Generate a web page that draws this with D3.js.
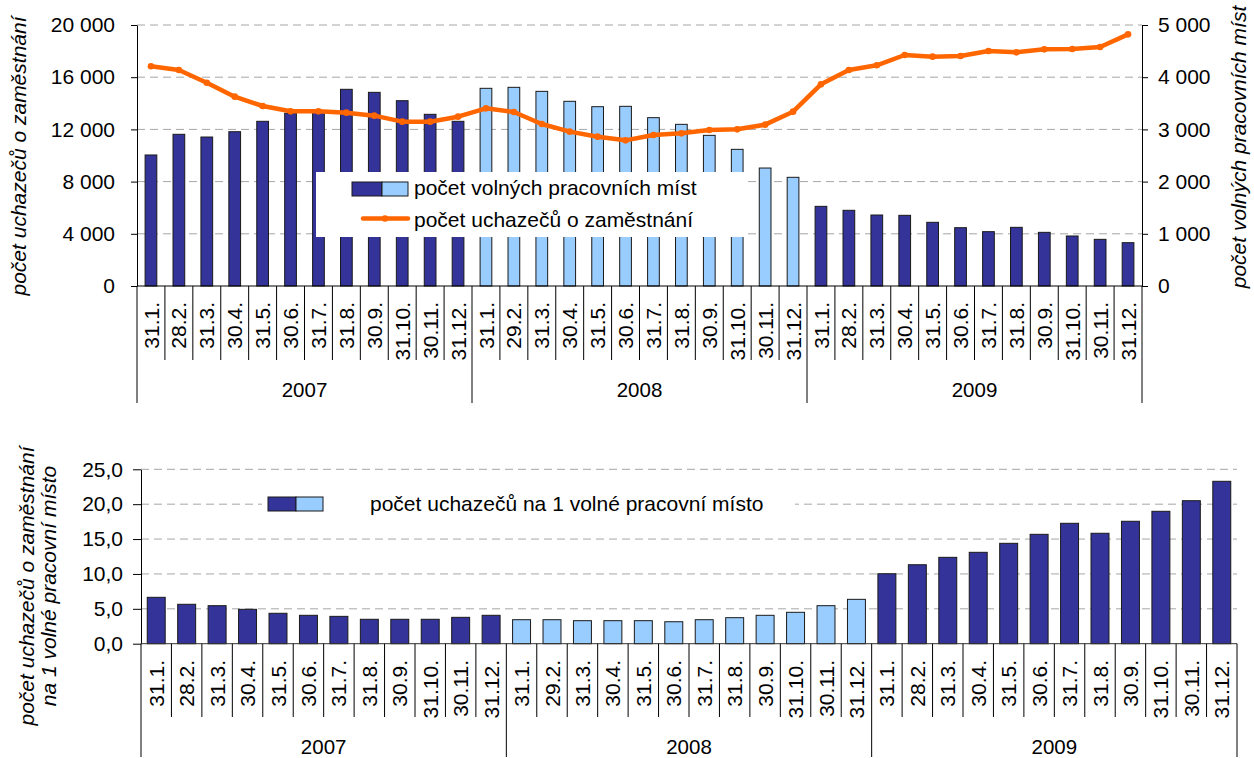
<!DOCTYPE html>
<html><head><meta charset="utf-8">
<script src="https://cdn.jsdelivr.net/npm/d3@7"></script>
<style>
body{margin:0;background:#fff}
svg{display:block}
text{font-family:"Liberation Sans",Arial,sans-serif;fill:#000}
</style>
</head><body>
<svg id="c" width="1254" height="758"></svg>
<script>
// ---------- data ----------
const categories = [
  "31.1.","28.2.","31.3.","30.4.","31.5.","30.6.","31.7.","31.8.","30.9.","31.10.","30.11.","31.12.",
  "31.1.","29.2.","31.3.","30.4.","31.5.","30.6.","31.7.","31.8.","30.9.","31.10.","30.11.","31.12.",
  "31.1.","28.2.","31.3.","30.4.","31.5.","30.6.","31.7.","31.8.","30.9.","31.10.","30.11.","31.12."
];
const years = ["2007","2008","2009"];
const yearColors = ["#333399","#99CCFF","#333399"];
// počet volných pracovních míst (right axis)
const vacancies = [
  2510,2906,2854,2956,3155,3310,3360,3768,3710,3550,3289,3155,
  3787,3806,3729,3538,3435,3442,3225,3097,2886,2618,2260,2082,
  1526,1450,1360,1354,1220,1117,1041,1124,1028,958,894,830
];
// počet uchazečů o zaměstnání (left axis)
const seekers = [
  16835,16552,15580,14508,13793,13385,13385,13282,13052,12593,12593,12976,
  13614,13334,12414,11827,11443,11162,11571,11699,11954,12005,12363,13359,
  15454,16552,16910,17702,17573,17625,18008,17906,18136,18161,18315,19285
];
// počet uchazečů na 1 volné pracovní místo
const ratio = [
  6.65,5.65,5.45,4.93,4.36,4.07,3.92,3.50,3.50,3.50,3.78,4.07,
  3.44,3.44,3.30,3.30,3.30,3.15,3.44,3.73,4.07,4.50,5.45,6.36,
  10.03,11.32,12.38,13.10,14.39,15.68,17.26,15.83,17.55,18.98,20.50,23.28
];
const leftTicksTop = [0,4000,8000,12000,16000,20000];
const rightTicksTop = [0,1000,2000,3000,4000,5000];
const ticksBottom = [0,5,10,15,20,25];

// ---------- helpers ----------
const loc = d3.formatLocale({decimal:",", thousands:" ", grouping:[3], currency:["",""]});
const fmtInt = loc.format(",d");
const fmtDec = loc.format(".1f");
const svg = d3.select("#c");
const perYear = categories.length / years.length;
const colorOf = i => yearColors[Math.floor(i / perYear)];
const GRID = "#A6A6A6";
const FS = "21px";

function categoryAxis(g, xCat, yBase, labelTop, sepEnd, yearEnd, yearBase) {
  const ax = d3.axisBottom(xCat).tickFormat(i => categories[i]).tickSize(0).tickSizeOuter(0);
  const ga = g.append("g").attr("transform", `translate(0,${labelTop})`).call(ax);
  ga.select(".domain").remove();
  ga.selectAll(".tick text")
    .attr("transform", "rotate(-90)")
    .attr("x", 0).attr("y", 0).attr("dy", "0.36em")
    .style("text-anchor", "end")
    .style("font-size", FS);
  const bounds = d3.range(categories.length + 1);
  g.selectAll(null).data(bounds).join("line")
    .attr("x1", i => i === categories.length ? xCat.range()[1] : xCat(i))
    .attr("x2", i => i === categories.length ? xCat.range()[1] : xCat(i))
    .attr("y1", yBase)
    .attr("y2", i => i % perYear === 0 ? yearEnd : sepEnd)
    .attr("stroke", "#000").attr("stroke-width", 1);
  g.selectAll(null).data(years).join("text")
    .attr("x", (d, k) => (xCat(k * perYear) + (k === years.length - 1 ? xCat.range()[1] : xCat((k + 1) * perYear))) / 2)
    .attr("y", yearBase)
    .attr("text-anchor", "middle")
    .style("font-size", "20.5px")
    .text(d => d);
}

// ---------- top chart ----------
{
  const X0 = 137, X1 = 1142, YT = 25, YB = 286;
  const g = svg.append("g");
  const xCat = d3.scaleBand().domain(d3.range(categories.length)).range([X0, X1]);
  const xBar = d3.scaleBand().domain(d3.range(categories.length)).range([X0, X1]).paddingInner(0.58).paddingOuter(0.29);
  const yL = d3.scaleLinear().domain([0, 20000]).range([YB, YT]);
  const yR = d3.scaleLinear().domain([0, 5000]).range([YB, YT]);

  g.selectAll(null).data(leftTicksTop.filter(d => d > 0)).join("line")
    .attr("x1", X0).attr("x2", X1).attr("y1", d => yL(d)).attr("y2", d => yL(d))
    .attr("stroke", GRID).attr("stroke-width", 1).attr("stroke-dasharray", "8,5");

  g.selectAll(null).data(vacancies).join("rect")
    .attr("x", (d, i) => xBar(i)).attr("width", xBar.bandwidth())
    .attr("y", d => yR(d)).attr("height", d => YB - yR(d))
    .attr("fill", (d, i) => colorOf(i))
    .attr("stroke", "#1a1a1a").attr("stroke-width", 1);

  const lineGen = d3.line().x((d, i) => xBar(i) + xBar.bandwidth() / 2).y(d => yL(d));
  g.append("path").datum(seekers).attr("d", lineGen)
    .attr("fill", "none").attr("stroke", "#FF6600").attr("stroke-width", 4.5)
    .attr("stroke-linejoin", "round").attr("stroke-linecap", "round");
  g.selectAll(null).data(seekers).join("circle")
    .attr("cx", (d, i) => xBar(i) + xBar.bandwidth() / 2).attr("cy", d => yL(d))
    .attr("r", 3.3).attr("fill", "#FF6600");

  const axL = g.append("g").attr("transform", `translate(${X0},0)`)
    .call(d3.axisLeft(yL).tickValues(leftTicksTop).tickFormat(fmtInt).tickSize(6).tickSizeOuter(0).tickPadding(16));
  axL.selectAll("text").style("font-size", FS);
  const axR = g.append("g").attr("transform", `translate(${X1},0)`)
    .call(d3.axisRight(yR).tickValues(rightTicksTop).tickFormat(fmtInt).tickSize(6).tickSizeOuter(0).tickPadding(10));
  axR.selectAll("text").style("font-size", FS);
  g.append("line").attr("x1", X0).attr("x2", X1).attr("y1", YB).attr("y2", YB).attr("stroke", "#000");

  categoryAxis(g, xCat, YB, 302, 360, 403, 397);

  g.append("text").attr("transform", "translate(26,156) rotate(-90)")
    .attr("text-anchor", "middle").style("font-size", FS).style("font-style", "italic")
    .text("počet uchazečů o zaměstnání");
  g.append("text").attr("transform", "translate(1246,147) rotate(-90)")
    .attr("text-anchor", "middle").style("font-size", FS).style("font-style", "italic")
    .text("počet volných pracovních míst");

  const lg = g.append("g");
  lg.append("rect").attr("x", 316).attr("y", 172).attr("width", 432).attr("height", 65).attr("fill", "#fff");
  lg.append("rect").attr("x", 352).attr("y", 182).attr("width", 30).attr("height", 14).attr("fill", yearColors[0]).attr("stroke", "#1a1a1a");
  lg.append("rect").attr("x", 382).attr("y", 182).attr("width", 26).attr("height", 14).attr("fill", yearColors[1]).attr("stroke", "#1a1a1a");
  lg.append("text").attr("x", 414).attr("y", 195).style("font-size", FS).text("počet volných pracovních míst");
  lg.append("line").attr("x1", 363).attr("x2", 408).attr("y1", 218.5).attr("y2", 218.5)
    .attr("stroke", "#FF6600").attr("stroke-width", 4.5).attr("stroke-linecap", "round");
  lg.append("circle").attr("cx", 385).attr("cy", 218.5).attr("r", 3.3).attr("fill", "#FF6600");
  lg.append("text").attr("x", 414).attr("y", 227).style("font-size", FS).text("počet uchazečů o zaměstnání");
}

// ---------- bottom chart ----------
{
  const X0 = 141, X1 = 1237, YT = 469.3, YB = 643.7;
  const g = svg.append("g");
  const xCat = d3.scaleBand().domain(d3.range(categories.length)).range([X0, X1]);
  const xBar = d3.scaleBand().domain(d3.range(categories.length)).range([X0, X1]).paddingInner(0.41).paddingOuter(0.205);
  const y = d3.scaleLinear().domain([0, 25]).range([YB, YT]);

  g.selectAll(null).data(ticksBottom.filter(d => d > 0)).join("line")
    .attr("x1", X0).attr("x2", X1).attr("y1", d => y(d)).attr("y2", d => y(d))
    .attr("stroke", GRID).attr("stroke-width", 1).attr("stroke-dasharray", "8,5");

  g.append("rect").attr("x", 262).attr("y", 480).attr("width", 533).attr("height", 48).attr("fill", "#fff");

  g.selectAll(null).data(ratio).join("rect")
    .attr("x", (d, i) => xBar(i)).attr("width", xBar.bandwidth())
    .attr("y", d => y(d)).attr("height", d => YB - y(d))
    .attr("fill", (d, i) => colorOf(i))
    .attr("stroke", "#1a1a1a").attr("stroke-width", 1);

  const ax = g.append("g").attr("transform", `translate(${X0},0)`)
    .call(d3.axisLeft(y).tickValues(ticksBottom).tickFormat(fmtDec).tickSize(8).tickSizeOuter(0).tickPadding(10));
  ax.selectAll("text").style("font-size", FS);
  g.append("line").attr("x1", X0).attr("x2", X1).attr("y1", YB).attr("y2", YB).attr("stroke", "#333");

  categoryAxis(g, xCat, YB, 660, 717, 757, 754);

  g.append("text").attr("transform", "translate(34,586) rotate(-90)")
    .attr("text-anchor", "middle").style("font-size", FS).style("font-style", "italic")
    .text("počet uchazečů o zaměstnání");
  g.append("text").attr("transform", "translate(56,586) rotate(-90)")
    .attr("text-anchor", "middle").style("font-size", FS).style("font-style", "italic")
    .text("na 1 volné pracovní místo");

  g.append("rect").attr("x", 268).attr("y", 497).attr("width", 28).attr("height", 14).attr("fill", yearColors[0]).attr("stroke", "#1a1a1a");
  g.append("rect").attr("x", 296).attr("y", 497).attr("width", 27).attr("height", 14).attr("fill", yearColors[1]).attr("stroke", "#1a1a1a");
  g.append("text").attr("x", 370).attr("y", 511).style("font-size", FS).text("počet uchazečů na 1 volné pracovní místo");
}
</script>
</body></html>
